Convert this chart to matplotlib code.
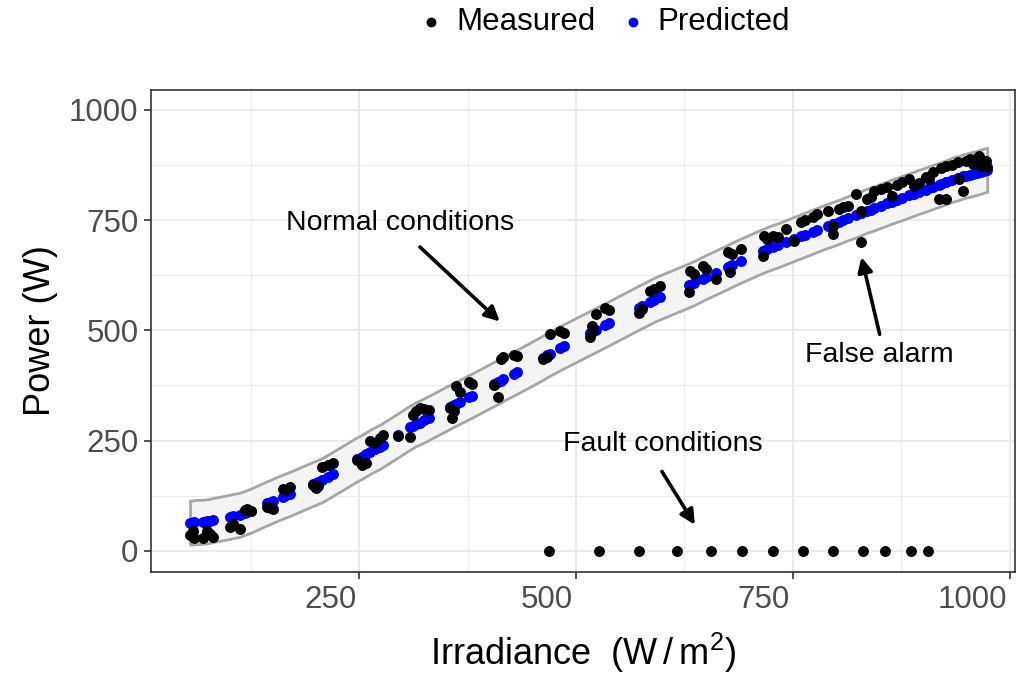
import matplotlib.pyplot as plt
from matplotlib.ticker import MultipleLocator
import matplotlib.transforms as mtransforms

plt.rcParams['font.family'] = ['Liberation Sans', 'DejaVu Sans']
plt.rcParams['mathtext.fontset'] = 'custom'
plt.rcParams['mathtext.rm'] = 'Liberation Sans'
plt.rcParams['mathtext.default'] = 'regular'

# 数据: irradiance, measured power, predicted power
irradiance = [55, 58, 70, 75, 78, 101, 113, 118, 121, 144, 151, 162, 170, 197, 200,
              207, 220, 248, 253, 263, 274, 295, 309, 312, 320, 325, 355, 357, 362, 377,
              405, 410, 413, 428, 462, 470, 482, 516, 518, 523, 533, 572, 585, 597, 631,
              630, 646, 661, 675, 678, 690, 715, 717, 727, 742, 751, 759, 773, 790, 796,
              796, 803, 813, 829, 823, 829, 835, 844, 859, 864, 876, 884, 890, 907, 911,
              927, 940, 942, 946, 954, 965, 967, 970, 918, 927,
              60, 82, 105, 125, 148, 166, 203, 214, 258, 268, 278, 315, 330, 359, 366,
              380, 416, 432, 466, 486, 520, 538, 576, 590, 636, 650, 680, 720, 733, 764,
              778, 808, 840, 852, 870, 895, 903, 921, 933, 950, 958, 962, 972, 974]
measured = [35, 45, 30, 45, 38, 55, 50, 92, 95, 100, 95, 141, 145, 150, 143,
            191, 200, 205, 195, 248, 255, 260, 259, 309, 325, 322, 325, 302, 373, 382,
            377, 348, 434, 445, 434, 491, 498, 486, 509, 536, 550, 539, 589, 600, 634,
            586, 645, 616, 677, 632, 684, 668, 714, 715, 730, 702, 745, 757, 770, 736,
            718, 775, 782, 700, 809, 770, 798, 816, 825, 805, 836, 843, 827, 843, 859,
            873, 882, 843, 816, 889, 895, 873, 880, 798, 798,
            28, 32, 60, 90, 98, 138, 148, 195, 200, 245, 262, 318, 320, 318, 360,
            378, 440, 442, 440, 495, 500, 545, 548, 594, 628, 640, 672, 706, 712, 750,
            763, 779, 802, 820, 830, 833, 848, 867, 876, 885, 878, 891, 884, 870]
predicted = [64, 64, 66, 67, 68, 77, 82, 86, 88, 108, 114, 123, 129, 152, 154,
             160, 175, 208, 213, 225, 236, 262, 280, 283, 291, 296, 327, 329, 334, 349,
             378, 383, 386, 402, 438, 447, 460, 494, 496, 501, 511, 551, 564, 575, 603,
             602, 617, 631, 644, 647, 658, 680, 681, 689, 700, 707, 713, 724, 737, 741,
             741, 746, 754, 766, 761, 766, 771, 777, 788, 792, 800, 806, 810, 822, 825,
             836, 845, 846, 849, 853, 859, 860, 862, 830, 836,
             65, 70, 79, 91, 111, 126, 157, 168, 219, 230, 241, 287, 301, 331, 338,
             352, 390, 406, 443, 464, 498, 516, 555, 569, 607, 621, 649, 684, 693, 717,
             728, 750, 774, 783, 796, 814, 819, 832, 841, 851, 855, 857, 863, 864]
band_half = 50

fault_irr = [469, 527, 573, 616, 656, 691, 727, 762, 796, 831, 856, 886, 906]
fault_pow = [0, 0, 0, 0, 0, 0, 0, 0, 0, 0, 0, 0, 0]

fig = plt.figure(figsize=(10.17, 6.77), dpi=100)
ax = fig.add_axes([151 / 1017, 1 - 572 / 677, (1015 - 151) / 1017, (572 - 90) / 677])

# 容差带
order = sorted(range(len(irradiance)), key=lambda i: irradiance[i])
bx = [irradiance[i] for i in order]
bp = [predicted[i] for i in order]
ax.fill_between(bx, [p - band_half for p in bp], [p + band_half for p in bp],
                facecolor='#F4F4F4', edgecolor='#A6A6A6', linewidth=2.0, zorder=2)

ax.scatter(irradiance, predicted, s=62, color='#0000FF', linewidths=0, zorder=3, label='Predicted')
ax.scatter(irradiance, measured, s=62, color='black', linewidths=0, zorder=4, label='Measured')
ax.scatter(fault_irr, fault_pow, s=62, color='black', linewidths=0, zorder=4)

ax.set_xlim(10, 1006)
ax.set_ylim(-48, 1045)
ax.xaxis.set_minor_locator(MultipleLocator(125))
ax.yaxis.set_minor_locator(MultipleLocator(125))
ax.set_xticks([250, 500, 750, 1000])
ax.set_yticks([0, 250, 500, 750, 1000])

ax.grid(which='major', color='#EBEBEB', linewidth=1.5, zorder=0)
ax.grid(which='minor', color='#EBEBEB', linewidth=0.8, zorder=0)
ax.set_axisbelow(True)
for s in ax.spines.values():
    s.set_color('#333333')
    s.set_linewidth(1.2)

ax.tick_params(which='major', length=5, width=1.2, color='#333333',
               labelsize=22.5, labelcolor='#4D4D4D', pad=4)
ax.tick_params(which='minor', length=0)

# x 刻度标签右对齐到刻度
offset = mtransforms.ScaledTranslation(-3 / 100, 0, fig.dpi_scale_trans)
for lab in ax.get_xticklabels():
    lab.set_horizontalalignment('right')
    lab.set_transform(lab.get_transform() + offset)

ax.set_xlabel(r'Irradiance  (W$\,/\,$m$^{2}$)', fontsize=26, labelpad=12)
ax.set_ylabel('Power (W)', fontsize=26, labelpad=8)

arrow = dict(arrowstyle='-|>', lw=2.6, color='black', mutation_scale=22, shrinkA=0, shrinkB=0)
ax.text(297, 743, 'Normal conditions', fontsize=20.5, ha='center', va='center')
ax.annotate('', xy=(412, 520), xytext=(320, 689), arrowprops=arrow)
ax.text(600, 243, 'Fault conditions', fontsize=20.5, ha='center', va='center')
ax.annotate('', xy=(637, 59), xytext=(599, 180), arrowprops=arrow)
ax.text(850, 445, 'False alarm', fontsize=20.5, ha='center', va='center')
ax.annotate('', xy=(829, 666), xytext=(850, 491), arrowprops=arrow)

h, l = ax.get_legend_handles_labels()
fig.legend(h[::-1], l[::-1], loc='center', bbox_to_anchor=(606 / 1017, 1 - 22 / 677),
           ncol=2, frameon=False, fontsize=22.5, markerscale=0.9,
           handlelength=0.6, handletextpad=0.5, columnspacing=0.9)

fig.savefig('out.png', dpi=100)
